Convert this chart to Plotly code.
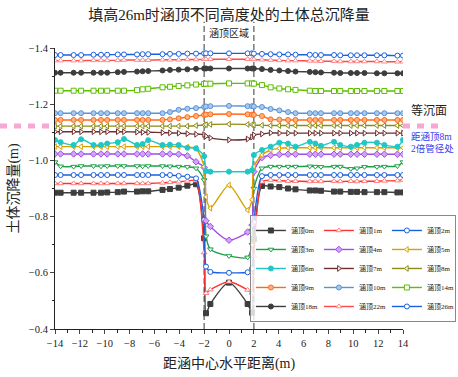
import plotly.graph_objects as go

# ---------------- data ----------------
x_dist = [-14, -13.55, -12.5, -11.9, -10.9, -10.3, -9.8, -8.95, -8.45, -7.4, -6.95, -6.5,
          -5.35, -4.75, -4.05, -3.35, -2.65, -2.0, -1.85, -1.5, 0,
          1.5, 1.85, 2.0, 2.65, 3.35, 4.05, 4.75, 5.35, 6.5, 6.95, 7.4, 8.45, 8.95,
          9.8, 10.3, 10.9, 11.9, 12.5, 13.55, 14]

s_0m = [-0.885, -0.885, -0.885, -0.885, -0.885, -0.885, -0.886, -0.887, -0.889, -0.889, -0.890, -0.890,
        -0.895, -0.898, -0.903, -0.910, -0.915, -0.723, -0.456, -0.489, -0.565,
        -0.489, -0.458, -0.720, -0.909, -0.907, -0.905, -0.900, -0.897, -0.893, -0.893, -0.892, -0.889, -0.889,
        -0.888, -0.888, -0.887, -0.887, -0.887, -0.886, -0.886]
s_1m = [-0.918, -0.918, -0.918, -0.918, -0.918, -0.918, -0.918, -0.918, -0.918, -0.918, -0.918, -0.918,
        -0.920, -0.922, -0.924, -0.927, -0.928, -0.672, -0.527, -0.540, -0.568,
        -0.539, -0.528, -0.660, -0.924, -0.930, -0.928, -0.926, -0.926, -0.925, -0.926, -0.925, -0.926, -0.925,
        -0.926, -0.925, -0.926, -0.926, -0.927, -0.928, -0.930]
s_2m = [-0.948, -0.948, -0.948, -0.948, -0.948, -0.948, -0.948, -0.948, -0.948, -0.948, -0.948, -0.948,
        -0.948, -0.948, -0.945, -0.942, -0.936, -0.788, -0.622, -0.603, -0.600,
        -0.602, -0.615, -0.780, -0.944, -0.948, -0.948, -0.948, -0.948, -0.948, -0.948, -0.948, -0.948, -0.948,
        -0.948, -0.948, -0.948, -0.948, -0.948, -0.948, -0.948]
s_3m = [-0.994, -0.979, -0.978, -0.980, -0.980, -0.979, -0.980, -0.980, -0.980, -0.980, -0.979, -0.980,
        -0.980, -0.979, -0.978, -0.977, -0.972, -0.930, -0.730, -0.684, -0.660,
        -0.655, -0.700, -0.900, -0.972, -0.978, -0.978, -0.978, -0.978, -0.979, -0.978, -0.977, -0.978, -0.978,
        -0.970, -0.972, -0.977, -0.977, -0.978, -0.980, -0.994]
s_4m = [-1.023, -1.023, -1.023, -1.023, -1.023, -1.023, -1.023, -1.023, -1.023, -1.023, -1.023, -1.023,
        -1.023, -1.023, -1.022, -1.016, -0.995, -0.975, -0.785, -0.765, -0.716,
        -0.745, -0.770, -0.960, -1.010, -1.018, -1.021, -1.022, -1.022, -1.022, -1.022, -1.022, -1.022, -1.022,
        -1.022, -1.022, -1.022, -1.022, -1.022, -1.022, -1.022]
s_5m = [-1.049, -1.049, -1.049, -1.049, -1.049, -1.049, -1.049, -1.049, -1.049, -1.049, -1.049, -1.049,
        -1.049, -1.049, -1.049, -1.047, -1.042, -0.978, -0.870, -0.830, -0.912,
        -0.823, -0.860, -0.978, -1.019, -1.037, -1.043, -1.045, -1.045, -1.045, -1.045, -1.045, -1.045, -1.045,
        -1.045, -1.045, -1.045, -1.045, -1.045, -1.045, -1.045]
s_6m = [-1.073, -1.065, -1.055, -1.075, -1.055, -1.055, -1.060, -1.065, -1.076, -1.055, -1.058, -1.072,
        -1.055, -1.056, -1.055, -1.045, -1.043, -1.015, -0.962, -0.960, -0.960,
        -0.960, -0.965, -1.019, -1.037, -1.049, -1.063, -1.060, -1.049, -1.066, -1.060, -1.052, -1.066, -1.055,
        -1.049, -1.055, -1.063, -1.063, -1.055, -1.049, -1.073]
s_7m = [-1.102, -1.102, -1.102, -1.102, -1.102, -1.102, -1.102, -1.102, -1.102, -1.101, -1.100, -1.100,
        -1.099, -1.098, -1.097, -1.095, -1.093, -1.092, -1.086, -1.080, -1.073,
        -1.076, -1.083, -1.091, -1.094, -1.098, -1.097, -1.097, -1.097, -1.097, -1.097, -1.097, -1.097, -1.097,
        -1.097, -1.097, -1.097, -1.097, -1.097, -1.097, -1.097]
s_8m = [-1.122, -1.122, -1.122, -1.122, -1.122, -1.122, -1.122, -1.122, -1.122, -1.122, -1.122, -1.122,
        -1.122, -1.122, -1.122, -1.122, -1.124, -1.126, -1.127, -1.128, -1.129,
        -1.128, -1.127, -1.126, -1.125, -1.124, -1.124, -1.124, -1.124, -1.124, -1.124, -1.124, -1.124, -1.124,
        -1.124, -1.124, -1.124, -1.124, -1.124, -1.124, -1.124]
s_9m = [-1.144, -1.144, -1.144, -1.144, -1.144, -1.144, -1.144, -1.144, -1.144, -1.144, -1.144, -1.144,
        -1.144, -1.146, -1.150, -1.154, -1.158, -1.162, -1.163, -1.164, -1.165,
        -1.164, -1.163, -1.162, -1.158, -1.146, -1.145, -1.144, -1.144, -1.144, -1.144, -1.144, -1.144, -1.144,
        -1.144, -1.144, -1.144, -1.144, -1.144, -1.144, -1.144]
s_10m = [-1.168, -1.168, -1.168, -1.168, -1.168, -1.168, -1.168, -1.168, -1.168, -1.168, -1.168, -1.168,
         -1.168, -1.172, -1.180, -1.184, -1.186, -1.190, -1.192, -1.193, -1.194,
         -1.193, -1.193, -1.192, -1.190, -1.183, -1.178, -1.172, -1.168, -1.168, -1.168, -1.168, -1.168, -1.168,
         -1.168, -1.168, -1.168, -1.168, -1.168, -1.168, -1.168]
s_14m = [-1.248, -1.248, -1.248, -1.248, -1.248, -1.248, -1.248, -1.248, -1.248, -1.250, -1.253, -1.255,
         -1.260, -1.262, -1.265, -1.267, -1.270, -1.272, -1.273, -1.273, -1.274,
         -1.274, -1.274, -1.273, -1.268, -1.260, -1.256, -1.253, -1.251, -1.248, -1.247, -1.247, -1.247, -1.247,
         -1.247, -1.247, -1.247, -1.247, -1.247, -1.247, -1.247]
s_18m = [-1.312, -1.312, -1.312, -1.312, -1.312, -1.312, -1.312, -1.314, -1.315, -1.316, -1.317, -1.318,
         -1.320, -1.322, -1.323, -1.324, -1.326, -1.327, -1.327, -1.327, -1.327,
         -1.327, -1.327, -1.327, -1.325, -1.322, -1.320, -1.318, -1.316, -1.315, -1.314, -1.313, -1.312, -1.311,
         -1.311, -1.311, -1.311, -1.310, -1.310, -1.310, -1.310]
s_22m = [-1.355, -1.355, -1.355, -1.355, -1.356, -1.356, -1.356, -1.356, -1.357, -1.357, -1.357, -1.357,
         -1.358, -1.358, -1.358, -1.359, -1.359, -1.360, -1.360, -1.360, -1.360,
         -1.360, -1.360, -1.359, -1.358, -1.357, -1.356, -1.355, -1.355, -1.354, -1.354, -1.353, -1.353, -1.352,
         -1.352, -1.352, -1.352, -1.352, -1.351, -1.351, -1.351]
s_26m = [-1.375, -1.375, -1.375, -1.375, -1.376, -1.376, -1.376, -1.377, -1.377, -1.377, -1.378, -1.378,
         -1.378, -1.379, -1.379, -1.380, -1.380, -1.381, -1.381, -1.381, -1.381,
         -1.381, -1.381, -1.380, -1.379, -1.378, -1.377, -1.377, -1.376, -1.376, -1.375, -1.375, -1.375, -1.374,
         -1.374, -1.374, -1.374, -1.374, -1.374, -1.373, -1.373]

series_names = ["涵顶0m", "涵顶1m", "涵顶2m", "涵顶3m", "涵顶4m", "涵顶5m", "涵顶6m", "涵顶7m",
                "涵顶8m", "涵顶9m", "涵顶10m", "涵顶14m", "涵顶18m", "涵顶22m", "涵顶26m"]
series_values = [s_0m, s_1m, s_2m, s_3m, s_4m, s_5m, s_6m, s_7m, s_8m, s_9m, s_10m, s_14m, s_18m, s_22m, s_26m]

culvert_edges = [-2, 2]
equal_settlement_level = -1.122
x_ticks = list(range(-14, 15, 2))
y_ticks = [-1.4, -1.2, -1.0, -0.8, -0.6, -0.4]

# ---------------- styles ----------------
line_colors = ['#3d3d3d', '#ff3030', '#1a5fe0', '#1e9e4a', '#a24de6', '#d9a000', '#1fc7c7', '#6e2e2e',
               '#8c8c14', '#ff6a14', '#5b93d6', '#5cbf00', '#3d3d3d', '#ff4a4a', '#1a5fe0']
marker_symbols = ['square', 'triangle-up', 'circle', 'triangle-down', 'diamond', 'triangle-left', 'circle',
                  'triangle-right', 'triangle-left', 'circle', 'circle', 'square', 'circle', 'triangle-up', 'circle']
marker_fills = ['#3d3d3d', '#ffffff', '#ffffff', '#ffffff', '#cfa6f7', '#ffffff', '#1fc7c7', '#ffffff',
                '#ffffff', '#ffb27f', '#a8c8ee', '#ffffff', '#3d3d3d', '#ffffff', '#ffffff']
marker_lines = ['#3d3d3d', '#ff8080', '#1a5fe0', '#1e9e4a', '#a24de6', '#d9a000', '#1fc7c7', '#6e2e2e',
                '#8c8c14', '#ff6a14', '#5b93d6', '#5cbf00', '#3d3d3d', '#ff8a8a', '#1a5fe0']

FONT = "Liberation Serif, 'Times New Roman', 'Noto Sans CJK SC', serif"

fig = go.Figure()
for name, vals, lc, sym, fc, mlc in zip(series_names, series_values, line_colors, marker_symbols,
                                         marker_fills, marker_lines):
    fig.add_trace(go.Scatter(
        x=x_dist, y=vals, name=name, mode='lines+markers',
        line=dict(color=lc, width=1.4, shape='spline', smoothing=0.7),
        marker=dict(symbol=sym, size=5, color=fc, line=dict(color=mlc, width=1)),
    ))

# culvert region dashed lines
for xe in culvert_edges:
    fig.add_shape(type='line', xref='x', yref='paper', x0=xe, x1=xe, y0=0, y1=1.093,
                  line=dict(color='#666666', width=1.3, dash='6px,3px'), layer='below')

# equal settlement plane markers (outside plot on both sides)
fig.add_shape(type='line', xref='paper', yref='y', x0=-0.158, x1=-0.01,
              y0=equal_settlement_level, y1=equal_settlement_level,
              line=dict(color='#f7a6d6', width=5, dash='7px,7px'))
fig.add_shape(type='line', xref='paper', yref='y', x0=1.0, x1=1.108,
              y0=equal_settlement_level, y1=equal_settlement_level,
              line=dict(color='#f7a6d6', width=5, dash='7px,7px'))

fig.add_annotation(x=0, y=1.053, xref='x', yref='paper', yanchor='middle', text='涵顶区域',
                   showarrow=False, font=dict(family=FONT, size=10, color='#222'))
fig.add_annotation(x=1.017, y=-1.176, xref='paper', yref='y', yanchor='middle', text='等沉面',
                   showarrow=False, xanchor='left', font=dict(family=FONT, size=12, color='#222'))
fig.add_annotation(x=1.017, y=-1.083, xref='paper', yref='y', yanchor='middle', text='距涵顶8m',
                   showarrow=False, xanchor='left', font=dict(family=FONT, size=9.5, color='#3a3af0'))
fig.add_annotation(x=1.017, y=-1.041, xref='paper', yref='y', yanchor='middle', text='2倍管径处',
                   showarrow=False, xanchor='left', font=dict(family=FONT, size=9.5, color='#3a3af0'))

fig.update_layout(
    width=458, height=377,
    margin=dict(l=55, r=55, t=48, b=48, autoexpand=False),
    paper_bgcolor='white', plot_bgcolor='white',
    font=dict(family=FONT, size=10, color='#222'),
    title=dict(text='填高26m时涵顶不同高度处的土体总沉降量', x=0.5, xanchor='center',
               y=0.962, yanchor='middle', yref='container',
               font=dict(family=FONT, size=15, color='#222')),
    showlegend=True,
    legend=dict(orientation='h', x=1.152, xanchor='right', y=0.025, yanchor='bottom',
                bgcolor='rgba(255,255,255,0.8)', bordercolor='#888', borderwidth=1,
                font=dict(family=FONT, size=7, color='#222'),
                entrywidth=23, entrywidthmode='pixels', itemwidth=30,
                traceorder='normal'),
)
fig.update_xaxes(range=[-14, 14], tickvals=x_ticks, ticks='outside', ticklen=4, tickwidth=1,
                 showline=True, linecolor='#222', linewidth=1, showgrid=False, zeroline=False,
                 tickfont=dict(family=FONT, size=10.5, color='#222'),
                 minor=dict(dtick=1, ticks='outside', ticklen=2.5, tickcolor='#222'),
                 title=dict(text='距涵中心水平距离(m)', standoff=10,
                            font=dict(family=FONT, size=14, color='#222')))
fig.update_yaxes(range=[-0.4, -1.4], tickvals=y_ticks, tickformat='.1f', ticks='outside', ticklen=4,
                 showline=True, linecolor='#222', linewidth=1, showgrid=False, zeroline=False,
                 tickfont=dict(family=FONT, size=10.5, color='#222'),
                 minor=dict(dtick=0.1, ticks='outside', ticklen=2.5, tickcolor='#222'),
                 title=dict(text='土体沉降量(m)', standoff=6,
                            font=dict(family=FONT, size=14, color='#222')))

fig.write_html("out.html", config={'displayModeBar': False},
               post_script="document.body.style.margin='0';")
